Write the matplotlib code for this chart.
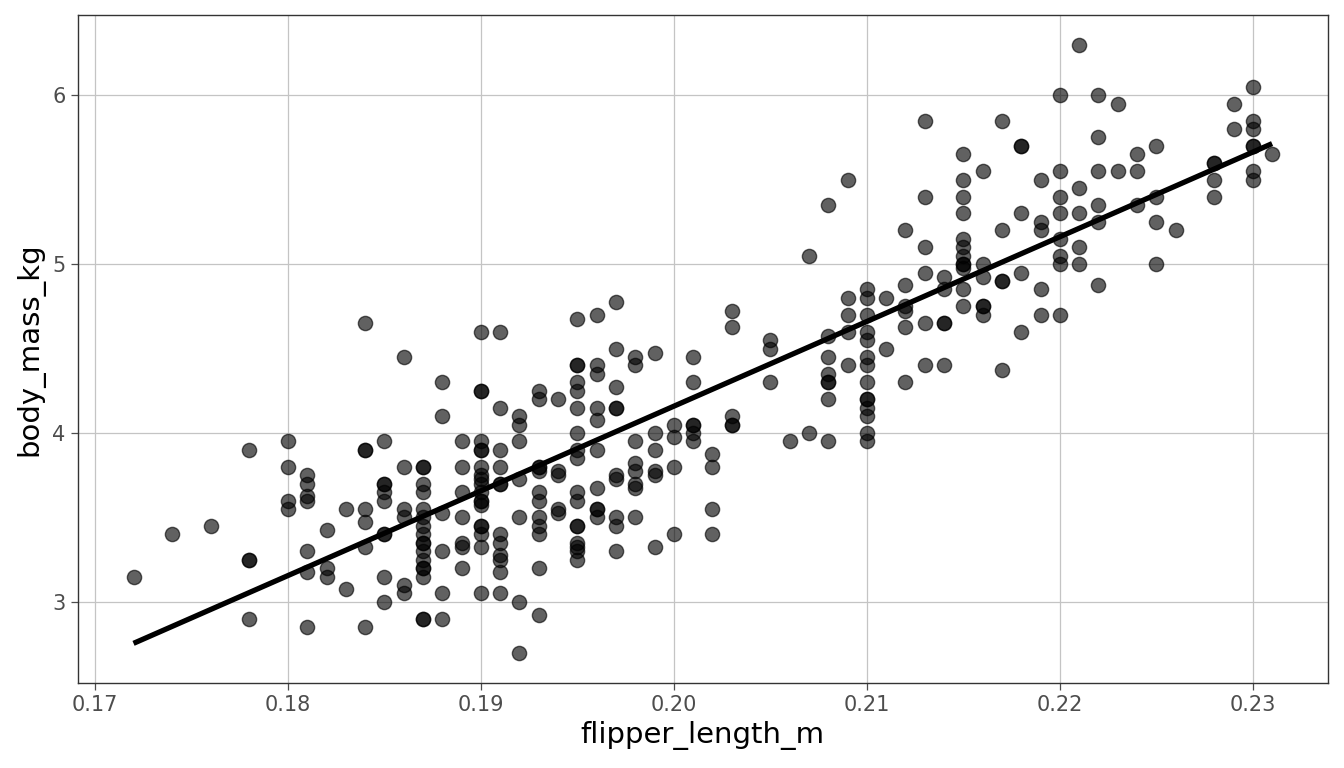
import matplotlib
matplotlib.use("Agg")
import matplotlib.pyplot as plt
import numpy as np

# flipper length (mm) -> list of body masses (kg)
flipper_mm = [172, 174, 176, 178, 180, 181, 182, 183, 184, 185, 186, 187, 188, 189,
              190, 191, 192, 193, 194, 195, 196, 197, 198, 199, 200, 201, 202, 203,
              205, 206, 207, 208, 209, 210, 211, 212, 213, 214, 215, 216, 217, 218,
              219, 220, 221, 222, 223, 224, 225, 226, 228, 229, 230, 231]

mass_kg = [
    [3.15],
    [3.40],
    [3.45],
    [3.90, 3.25, 3.25, 2.90],
    [3.95, 3.80, 3.60, 3.55],
    [3.75, 3.70, 3.625, 3.60, 3.30, 3.175, 2.85],
    [3.425, 3.20, 3.15],
    [3.55, 3.075],
    [4.65, 3.90, 3.90, 3.55, 3.475, 3.325, 2.85],
    [3.95, 3.70, 3.70, 3.65, 3.60, 3.40, 3.40, 3.15, 3.00],
    [4.45, 3.80, 3.55, 3.50, 3.10, 3.05],
    [3.80, 3.80, 3.70, 3.65, 3.55, 3.50, 3.45, 3.40, 3.35, 3.35, 3.30, 3.25,
     3.20, 3.20, 3.15, 2.90, 2.90],
    [4.30, 4.10, 3.525, 3.30, 3.05, 2.90],
    [3.95, 3.80, 3.65, 3.50, 3.35, 3.325, 3.20],
    [4.60, 4.25, 4.25, 3.95, 3.90, 3.90, 3.80, 3.75, 3.725, 3.70, 3.65, 3.60,
     3.60, 3.575, 3.45, 3.45, 3.40, 3.325, 3.05],
    [4.60, 4.15, 3.90, 3.80, 3.70, 3.70, 3.40, 3.35, 3.275, 3.25, 3.175, 3.05],
    [4.10, 4.05, 3.95, 3.725, 3.50, 3.00, 2.70],
    [4.25, 4.20, 3.80, 3.80, 3.775, 3.65, 3.60, 3.50, 3.45, 3.40, 3.20, 2.925],
    [4.20, 3.775, 3.75, 3.55, 3.525],
    [4.675, 4.40, 4.40, 4.30, 4.25, 4.15, 4.00, 3.90, 3.85, 3.65, 3.60, 3.45,
     3.45, 3.35, 3.325, 3.30, 3.25],
    [4.70, 4.40, 4.35, 4.15, 4.075, 3.90, 3.675, 3.55, 3.55, 3.50],
    [4.775, 4.50, 4.275, 4.15, 4.15, 3.75, 3.725, 3.50, 3.45, 3.30],
    [4.45, 4.40, 3.95, 3.825, 3.775, 3.70, 3.675, 3.50],
    [4.475, 4.00, 3.90, 3.775, 3.75, 3.325],
    [4.05, 3.975, 3.80, 3.40],
    [4.45, 4.30, 4.05, 4.05, 4.00, 3.95],
    [3.875, 3.80, 3.55, 3.40],
    [4.725, 4.625, 4.10, 4.05, 4.05],
    [4.55, 4.50, 4.30],
    [3.95],
    [5.05, 4.00],
    [5.35, 4.575, 4.45, 4.35, 4.30, 4.30, 4.20, 3.95],
    [5.50, 4.80, 4.70, 4.60, 4.40],
    [4.85, 4.80, 4.70, 4.60, 4.55, 4.45, 4.40, 4.30, 4.20, 4.20, 4.15, 4.10,
     4.00, 3.95],
    [4.80, 4.50],
    [5.20, 4.875, 4.75, 4.725, 4.625, 4.30],
    [5.85, 5.40, 5.10, 4.95, 4.65, 4.40],
    [4.925, 4.85, 4.65, 4.65, 4.40],
    [5.65, 5.50, 5.40, 5.30, 5.15, 5.10, 5.05, 5.00, 5.00, 4.975, 4.85, 4.75],
    [5.55, 5.00, 4.925, 4.75, 4.75, 4.70],
    [5.85, 5.20, 4.90, 4.90, 4.375],
    [5.70, 5.70, 5.30, 4.95, 4.60],
    [5.50, 5.25, 5.20, 4.85, 4.70],
    [6.00, 5.55, 5.40, 5.30, 5.15, 5.05, 5.00, 4.70],
    [6.30, 5.45, 5.30, 5.10, 5.00],
    [6.00, 5.75, 5.55, 5.35, 5.25, 4.875],
    [5.95, 5.55],
    [5.65, 5.55, 5.35],
    [5.70, 5.40, 5.25, 5.00],
    [5.20],
    [5.60, 5.60, 5.50, 5.40],
    [5.95, 5.80],
    [6.05, 5.85, 5.80, 5.70, 5.70, 5.55, 5.50],
    [5.65],
]

x = np.concatenate([[f / 1000.0] * len(m) for f, m in zip(flipper_mm, mass_kg)])
y = np.concatenate([np.array(m) for m in mass_kg])

# linear fit, like geom_smooth(method='lm')
slope, intercept = np.polyfit(x, y, 1)
xf = np.array([x.min(), x.max()])
yf = intercept + slope * xf

fig = plt.figure(figsize=(13.44, 7.68), dpi=100)
ax = fig.add_axes([0.058, 0.111, 0.930, 0.869])

ax.scatter(x, y, s=105, c='black', alpha=0.62, linewidths=1.0,
           edgecolors='black', zorder=3)
ax.plot(xf, yf, color='black', lw=3.8, solid_capstyle='butt', zorder=4)

ax.set_xlim(0.16912, 0.23389)
ax.set_ylim(2.521, 6.473)
ax.set_xticks([0.17, 0.18, 0.19, 0.20, 0.21, 0.22, 0.23])
ax.set_xticklabels(['0.17', '0.18', '0.19', '0.20', '0.21', '0.22', '0.23'])
ax.set_yticks([3, 4, 5, 6])
ax.set_yticklabels(['3', '4', '5', '6'])

ax.grid(True, color='#c4c4c4', lw=0.9, zorder=0)
ax.set_axisbelow(True)
for sp in ax.spines.values():
    sp.set_color('#333333')
    sp.set_linewidth(1.0)
ax.tick_params(axis='both', colors='#4d4d4d', labelsize=15, length=4.8, width=0.9,
               labelcolor='#4d4d4d', pad=4)

ax.set_xlabel('flipper_length_m', fontsize=21, color='black', labelpad=4)
ax.set_ylabel('body_mass_kg', fontsize=21, color='black', labelpad=6)

fig.savefig('out.png', dpi=100, facecolor='white')
